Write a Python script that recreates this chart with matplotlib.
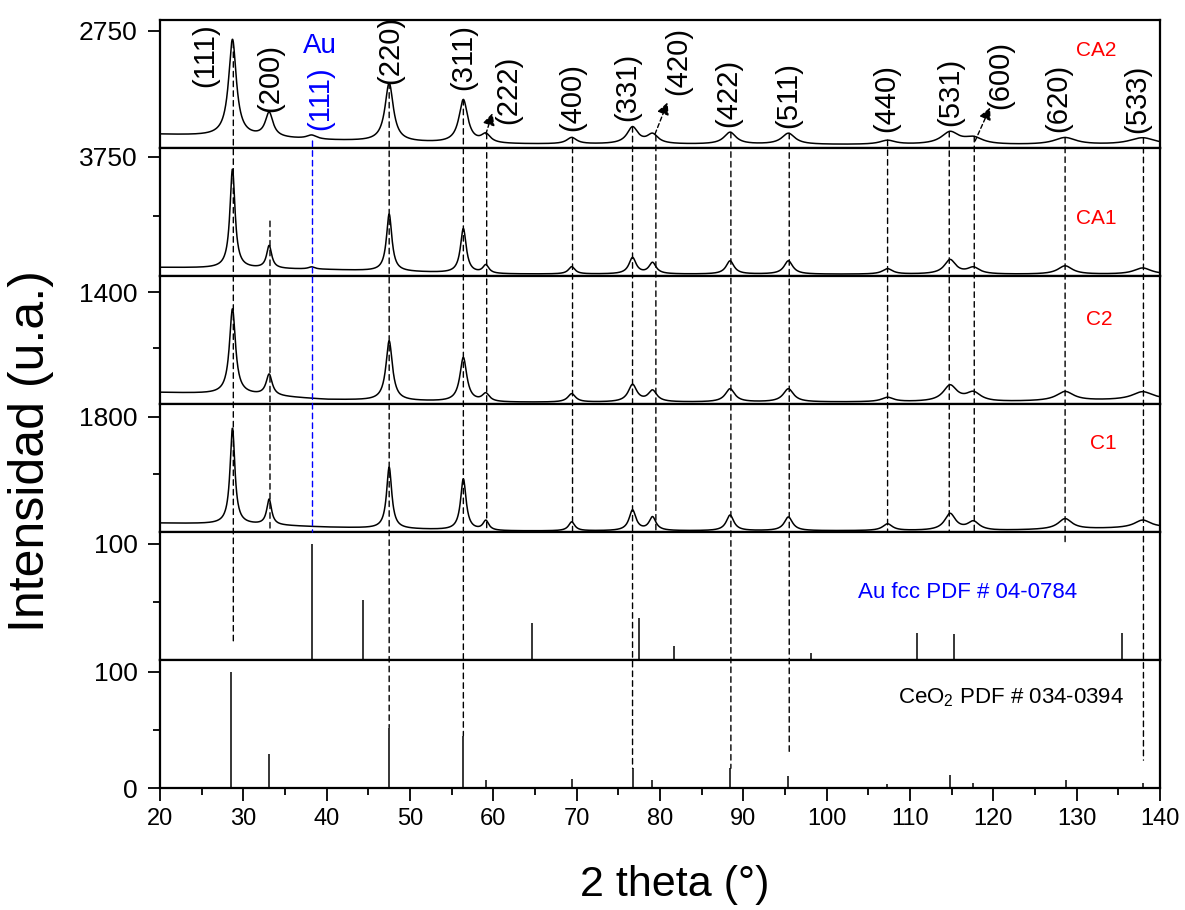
import numpy as np
import matplotlib
matplotlib.use("Agg")
import matplotlib.pyplot as plt
from matplotlib.patches import ConnectionPatch
from matplotlib.ticker import FixedLocator, MultipleLocator

plt.rcParams["font.family"] = ["Liberation Sans", "DejaVu Sans"]
plt.rcParams["mathtext.fontset"] = "custom"
plt.rcParams["mathtext.rm"] = "Liberation Sans"
plt.rcParams["mathtext.it"] = "Liberation Sans:italic"
plt.rcParams["mathtext.default"] = "regular"

# --- reflexiones CeO2 (fluorita) ---
hkl = ["(111)", "(200)", "(220)", "(311)", "(222)", "(400)", "(331)", "(420)",
       "(422)", "(511)", "(440)", "(531)", "(600)", "(620)", "(533)"]
peak_pos = [28.7, 33.1, 47.5, 56.4, 59.1, 69.4, 76.7, 79.1,
            88.4, 95.4, 107.3, 114.8, 117.6, 128.6, 137.9]
fwhm_base = [0.7, 0.7, 0.75, 0.8, 0.85, 0.9, 1.0, 1.0,
             1.1, 1.2, 1.4, 1.6, 1.7, 2.0, 2.4]
au_peak = 38.2

# alturas de pico (sobre el fondo) para cada muestra
ca2_height = [2270, 570, 1370, 1010, 200, 150, 390, 220, 280, 260, 95, 285, 150, 165, 165]
ca1_height = [3120, 715, 1800, 1400, 260, 230, 510, 350, 417, 420, 170, 450, 200, 265, 200]
c2_height = [1065, 265, 745, 550, 100, 105, 215, 140, 165, 165, 55, 200, 110, 115, 100]
c1_height = [1500, 400, 960, 800, 150, 140, 320, 210, 245, 215, 105, 260, 135, 165, 120]
au_height = [90, 70, 0, 0]          # Au(111) en CA2, CA1, C2, C1
width_scale = [1.6, 1.05, 1.25, 1.0]

# fondo de cada muestra
bg_x = [20, 30, 40, 60, 120, 140]
ca2_bg = [320, 260, 180, 90, 70, 70]
ca1_bg = [270, 240, 200, 60, 50, 50]
c2_bg = [145, 120, 55, 20, 25, 55]
c1_bg = [140, 120, 75, 15, 20, 70]

# patrones de referencia
au_ref_pos = [38.2, 44.4, 64.6, 77.5, 81.7, 98.1, 110.8, 115.3, 135.4]
au_ref_int = [100, 52, 32, 36, 12, 6, 23, 22, 23]
ceo2_ref_pos = [28.55, 33.08, 47.48, 56.33, 59.09, 69.4, 76.7, 79.07,
                88.41, 95.4, 107.27, 114.8, 117.6, 128.68, 137.9]
ceo2_ref_int = [100, 29, 52, 45, 7, 8, 17, 7, 17, 10, 3.5, 11, 4.5, 7, 4.5]

samples = ["CA2", "CA1", "C2", "C1"]
heights = [ca2_height, ca1_height, c2_height, c1_height]
backgrounds = [ca2_bg, ca1_bg, c2_bg, c1_bg]

y_top = [3000, 4030, 1600, 2000, 110, 110]
y_major = [[2750], [3750], [1400], [1800], [100], [0, 100]]
y_minor = [[], [1875], [700], [900], [50], [50]]

two_theta = np.arange(20, 140.001, 0.04)


def pattern(i):
    y = np.interp(two_theta, bg_x, backgrounds[i])
    for p, h, w in zip(peak_pos, heights[i], fwhm_base):
        g = w * width_scale[i] / 2
        y = y + h / (1 + ((two_theta - p) / g) ** 2)
    g = 0.9 * width_scale[i] / 2
    y = y + au_height[i] / (1 + ((two_theta - au_peak) / g) ** 2)
    return y


fig, axes = plt.subplots(6, 1, sharex=True, figsize=(11.85, 9.10), dpi=100,
                         gridspec_kw=dict(hspace=0))
fig.subplots_adjust(left=0.135, right=0.979, top=0.978, bottom=0.134)

curves = []
for i, ax in enumerate(axes[:4]):
    y = pattern(i)
    curves.append(y)
    ax.plot(two_theta, y, color="black", lw=1.1)

axes[4].vlines(au_ref_pos, 0, au_ref_int, color="black", lw=1.1)
axes[5].vlines(ceo2_ref_pos, 0, ceo2_ref_int, color="black", lw=1.1)

for i, ax in enumerate(axes):
    ax.set_xlim(20, 140)
    ax.set_ylim(0, y_top[i])
    ax.yaxis.set_major_locator(FixedLocator(y_major[i]))
    ax.yaxis.set_minor_locator(FixedLocator(y_minor[i]))
    ax.tick_params(axis="y", which="major", direction="out", length=9,
                   width=1.3, labelsize=19, pad=7)
    ax.tick_params(axis="y", which="minor", direction="out", length=5, width=1.3)
    for s in ax.spines.values():
        s.set_linewidth(1.6)
    if i < 5:
        ax.tick_params(axis="x", which="both", bottom=False, labelbottom=False)

axes[5].xaxis.set_major_locator(MultipleLocator(10))
axes[5].xaxis.set_minor_locator(MultipleLocator(5))
axes[5].tick_params(axis="x", which="major", direction="out", length=9,
                    width=1.3, labelsize=17, pad=5)
axes[5].tick_params(axis="x", which="minor", direction="out", length=5, width=1.3)

# nombres de muestra
red = "#ff0000"
blue = "#0000ff"
label_pos = [(132.3, 2280), (132.3, 1810), (132.7, 1056), (133.2, 1380)]
for ax, name, (lx, ly) in zip(axes[:4], samples, label_pos):
    ax.text(lx, ly, name, color=red, fontsize=15, ha="center", va="center")
axes[4].text(116.9, 58, "Au fcc PDF # 04-0784", color=blue, fontsize=16,
             ha="center", va="center")
axes[5].text(122.1, 78, r"CeO$_2$ PDF # 034-0394", color="black", fontsize=16,
             ha="center", va="center")

# indices de Miller sobre CA2
hkl_x = [25.4, 33.2, 47.6, 56.4, 61.8, 69.5, 76.1, 82.2,
         88.2, 95.4, 107.2, 114.8, 120.8, 127.8, 137.3]
hkl_y = [2170, 1630, 2290, 2125, 1370, 1200, 1440, 2050,
         1300, 1250, 1160, 1320, 1700, 1180, 1160]
for t, tx, ty in zip(hkl, hkl_x, hkl_y):
    axes[0].text(tx, ty, t, rotation=90, fontsize=21, ha="center", va="center")
axes[0].text(39.2, 2400, "Au", color=blue, fontsize=20, ha="center", va="center")
axes[0].text(39.2, 1160, "(111)", color=blue, fontsize=21, rotation=90,
             ha="center", va="center")

# flechas hacia (222), (420) y (600)
arrows = [((59.1, 330), (59.9, 820)),
          ((79.4, 330), (80.9, 1070)),
          ((117.8, 165), (119.6, 950))]
for start, end in arrows:
    axes[0].annotate("", xy=end, xytext=start,
                     arrowprops=dict(arrowstyle="-|>", linestyle=(0, (3, 2)),
                                     lw=1.0, color="black", mutation_scale=18,
                                     shrinkA=0, shrinkB=0))

# lineas guia discontinuas
guide_x = [28.8, 33.2, 47.5, 56.4, 59.2, 69.5, 76.7, 79.5,
           88.5, 95.5, 107.3, 114.7, 117.7, 128.6, 138.0]
guide_top_panel = [0, 1, 0, 0, 0, 0, 0, 0, 0, 0, 0, 0, 0, 0, 0]
guide_top_val = [None, 1730, None, None, None, None, None, None,
                 None, None, None, None, None, None, None]
guide_bot_panel = [4, 3, 5, 5, 3, 3, 5, 3, 5, 5, 3, 3, 3, 4, 5]
guide_bot_val = [13, 0, 52, 45, 0, 0, 17, 0, 17, 29, 0, 0, 0, 99, 24]


def guide(x, top_ax, top_y, bot_ax, bot_y, color):
    con = ConnectionPatch(xyA=(x, top_y), coordsA="data", axesA=top_ax,
                          xyB=(x, bot_y), coordsB="data", axesB=bot_ax,
                          color=color, lw=1.0, linestyle=(0, (4, 3)))
    fig.add_artist(con)


for gx, tp, tv, bp, bv in zip(guide_x, guide_top_panel, guide_top_val,
                              guide_bot_panel, guide_bot_val):
    if tv is None:
        tv = np.interp(gx, two_theta, curves[tp])
    guide(gx, axes[tp], tv, axes[bp], bv, "black")
guide(38.3, axes[0], 165, axes[3], 0, blue)

fig.text(0.026, 0.504, "Intensidad (u.a.)", rotation=90, fontsize=36,
         ha="center", va="center")
fig.text(0.569, 0.027, "2 theta (°)", fontsize=31, ha="center", va="center")

plt.savefig("out.png", dpi=100)
